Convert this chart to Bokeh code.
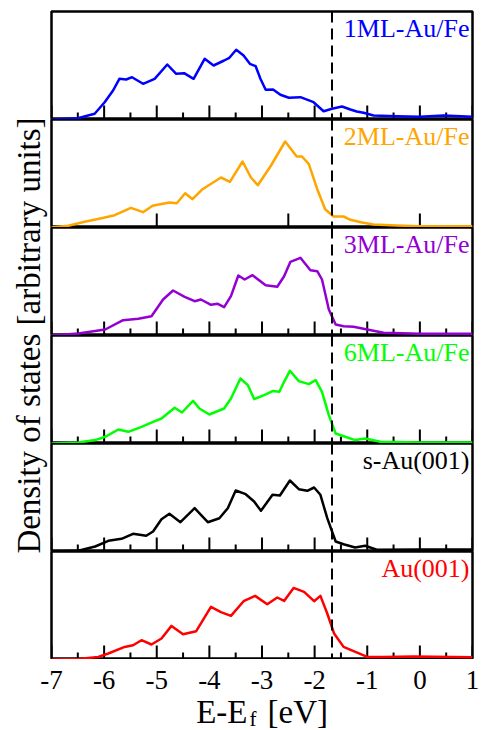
from bokeh.plotting import figure
from bokeh.models import Span, Label, Range1d
from bokeh.layouts import row, column
from bokeh.core.properties import value
from bokeh.embed import file_html
from bokeh.resources import INLINE

# ---- data (energy in eV relative to E_f, DOS in arbitrary units) ----
energy_1ml = [-7.00, -6.50, -6.18, -5.99, -5.83, -5.71, -5.58, -5.47, -5.26, -5.04, -4.80, -4.63, -4.48,
              -4.30, -4.09, -3.92, -3.72, -3.62, -3.49, -3.35, -3.23, -3.12, -3.03, -2.93, -2.79, -2.65,
              -2.49, -2.27, -2.02, -1.83, -1.67, -1.48, -1.32, -1.20, -1.07, -0.88, -0.44, 0.00, 0.45, 1.00]
dos_1ml = [0, 1.3, 5.7, 17.3, 29, 40.7, 40, 42.3, 35.7, 40.7, 55, 45.7, 46.3, 40.7, 60.7, 54, 59, 61.7,
           69.7, 64, 55.7, 53.3, 40.7, 29.7, 30, 24.7, 21.7, 22.3, 17.3, 8.3, 10.7, 13, 10, 8, 6.7, 4,
           3.3, 2.7, 4, 2.7]

energy_2ml = [-7.00, -6.68, -6.37, -6.05, -5.80, -5.49, -5.26, -5.08, -4.76, -4.62, -4.46, -4.32, -4.13,
              -3.78, -3.61, -3.37, -3.21, -3.08, -2.84, -2.56, -2.34, -2.24, -2.11, -1.95, -1.80, -1.64,
              -1.45, -1.32, -1.10, -0.88, -0.44, 0.00, 1.00]
dos_2ml = [0, 1.7, 5.7, 9.3, 12.3, 19.7, 15.3, 21.7, 25, 24.3, 34.3, 28.3, 38.3, 50, 45.7, 66, 50, 42.3,
           61, 86, 71, 71, 63.3, 38.3, 18.3, 11, 11, 7.7, 5, 3, 2, 1.3, 1.3]

energy_3ml = [-7.00, -6.49, -5.98, -5.64, -5.35, -5.10, -4.88, -4.69, -4.47, -4.28, -4.16, -3.97, -3.84,
              -3.72, -3.59, -3.45, -3.33, -3.18, -2.93, -2.71, -2.58, -2.46, -2.27, -2.08, -1.95, -1.86,
              -1.73, -1.60, -1.45, -1.26, -1.00, -0.69, 0.00, 1.00]
dos_3ml = [0, 2, 6, 15.3, 16.7, 19.3, 36, 45, 38.7, 34.3, 36, 30.7, 31.7, 28.3, 39.3, 60, 56, 60.3, 50.3,
           48.7, 59.3, 73.7, 77.7, 65.3, 64.3, 56, 26, 11, 9.3, 8.7, 6, 2.7, 1.7, 1.7]

energy_6ml = [-7.00, -6.49, -6.17, -5.98, -5.73, -5.54, -5.29, -5.07, -4.91, -4.66, -4.52, -4.31, -4.19,
              -4.00, -3.72, -3.59, -3.41, -3.27, -3.15, -2.96, -2.80, -2.67, -2.58, -2.47, -2.30, -2.11,
              -1.98, -1.86, -1.73, -1.60, -1.42, -1.23, -1.04, -0.75, 0.00, 1.00]
dos_6ml = [0, 1, 3.4, 6.7, 14, 11.7, 16.7, 21.7, 25, 35.7, 31, 42.7, 35, 29, 35, 45, 65, 58.4, 44.4, 48.4,
           52.4, 51.7, 61.7, 72.7, 62.4, 59.4, 63.4, 51.7, 28.4, 10, 6.7, 3.4, 5, 1.7, 1, 1]

energy_sau = [-7.00, -6.49, -6.17, -5.92, -5.67, -5.45, -5.20, -5.07, -4.91, -4.76, -4.55, -4.28, -4.03,
              -3.81, -3.65, -3.50, -3.31, -3.15, -3.02, -2.80, -2.66, -2.47, -2.30, -2.14, -2.01, -1.89,
              -1.76, -1.60, -1.45, -1.23, -1.04, -0.82, 0.00, 1.00]
dos_sau = [0, 0.7, 5, 10.7, 12.7, 17.7, 15.7, 20, 32.3, 37.7, 29.3, 43.3, 29.3, 33.3, 43.3, 61, 57.3, 50,
           40.7, 56.7, 56, 71, 62.3, 60.7, 64, 56.7, 33.3, 10, 7.3, 4, 5.7, 1.7, 2, 2]

energy_au = [-7.00, -6.49, -6.11, -5.92, -5.61, -5.45, -5.29, -5.10, -4.91, -4.72, -4.50, -4.25, -3.97,
             -3.78, -3.59, -3.35, -3.13, -2.90, -2.71, -2.58, -2.40, -2.20, -2.01, -1.89, -1.76, -1.63,
             -1.45, -1.26, -1.00, -0.69, -0.12, 1.00]
dos_au = [0, 0.6, 2.6, 6, 12.6, 14.3, 19.3, 15, 21, 33.6, 25.3, 28.3, 52.6, 47.3, 43.6, 58.3, 63.6, 55.3,
          62, 58.6, 71.6, 67.6, 58.3, 63.6, 46, 26, 12.6, 8.3, 2.6, 2.6, 3, 2.3]

series_names = ["1ML-Au/Fe", "2ML-Au/Fe", "3ML-Au/Fe", "6ML-Au/Fe", "s-Au(001)", "Au(001)"]
series_colors = ["#0000ff", "#ffa500", "#9400d3", "#00ff00", "#000000", "#ff0000"]
series_energy = [energy_1ml, energy_2ml, energy_3ml, energy_6ml, energy_sau, energy_au]
series_dos = [dos_1ml, dos_2ml, dos_3ml, dos_6ml, dos_sau, dos_au]

major_ticks = [-7, -6, -5, -4, -3, -2, -1, 0, 1]
minor_ticks = [-6.5, -5.5, -4.5, -3.5, -2.5, -1.5, -0.5, 0.5]
panel2_ticks = [-5, -2.5, 0]
tick_texts = [str(t) for t in major_ticks]
fermi_line = -1.67
x_start, x_end = -7, 1

# ---- layout constants (pixels) ----
FONT = "Liberation Serif"
PAGE_W = 481
LAB_W = 49          # strip holding the vertical axis title
FRAME_L = 2         # gap between title strip and panel frame
FRAME_W = 421
FRAME_R = PAGE_W - LAB_W - FRAME_L - FRAME_W
FRAME_H = 108
TOP = 11
XSTRIP_H = 70

panels = []
n = len(series_names)
for i in range(n):
    p = figure(frame_width=FRAME_W, frame_height=FRAME_H,
               x_range=Range1d(x_start, x_end), y_range=Range1d(0, 108),
               output_backend="svg", toolbar_location=None,
               min_border_left=FRAME_L, min_border_right=FRAME_R,
               min_border_top=TOP if i == 0 else 0, min_border_bottom=0,
               x_axis_location=None, y_axis_location=None)
    p.grid.visible = False
    p.outline_line_color = "black"
    p.outline_line_width = 2.5

    # inward ticks on the bottom edge of every panel
    if i == 1:
        majors, minors = panel2_ticks, []
    else:
        majors, minors = major_ticks, minor_ticks
    p.ray(x=majors, y=[0] * len(majors), length=14, length_units="screen",
          angle=90, angle_units="deg", line_color="black", line_width=2)
    if minors:
        p.ray(x=minors, y=[0] * len(minors), length=7, length_units="screen",
              angle=90, angle_units="deg", line_color="black", line_width=2)

    p.add_layout(Span(location=fermi_line, dimension="height", line_color="black",
                      line_width=2, line_dash="11 6"))
    p.line(series_energy[i], series_dos[i], line_color=series_colors[i], line_width=2.5,
           line_join="round")
    p.add_layout(Label(x=FRAME_W - 3, y=FRAME_H - 17, x_units="screen", y_units="screen",
                       text=series_names[i], text_align="right", text_baseline="alphabetic",
                       text_font=FONT, text_font_size="26px", text_color=series_colors[i]))
    panels.append(p)

# ---- bottom strip: tick labels and x-axis title (full page width) ----
px_per_unit = FRAME_W / (x_end - x_start)
sx0 = x_start - (LAB_W + FRAME_L) / px_per_unit
sx1 = x_end + FRAME_R / px_per_unit
xs = figure(frame_width=PAGE_W, frame_height=XSTRIP_H, output_backend="svg", toolbar_location=None,
            min_border_left=0, min_border_right=0, min_border_top=0, min_border_bottom=0,
            x_range=Range1d(sx0, sx1), y_range=Range1d(0, XSTRIP_H),
            x_axis_location=None, y_axis_location=None)
xs.grid.visible = False
xs.outline_line_color = None
xs.text(x=major_ticks, y=[50] * len(major_ticks), text=tick_texts,
        text_font=value(FONT), text_font_size="27px", text_align="center",
        text_baseline="alphabetic", text_color="black")
xs.add_layout(Label(x=247, y=18, x_units="screen", y_units="screen",
                    text="E-E", text_align="right", text_baseline="alphabetic",
                    text_font=FONT, text_font_size="33px", text_color="black"))
xs.add_layout(Label(x=249, y=11, x_units="screen", y_units="screen",
                    text="f", text_align="left", text_baseline="alphabetic",
                    text_font=FONT, text_font_size="21px", text_color="black"))
xs.add_layout(Label(x=267, y=18, x_units="screen", y_units="screen",
                    text="[eV]", text_align="left", text_baseline="alphabetic",
                    text_font=FONT, text_font_size="33px", text_color="black"))

# ---- vertical axis title ----
lab = figure(width=LAB_W, height=TOP + n * FRAME_H, x_range=Range1d(0, 1), y_range=Range1d(0, 1),
             output_backend="svg", toolbar_location=None,
             min_border_left=46, min_border_right=0, min_border_top=TOP, min_border_bottom=0,
             title="Density of states [arbitrary units]", title_location="left",
             x_axis_location=None, y_axis_location=None)
lab.grid.visible = False
lab.outline_line_color = None
lab.title.align = "center"
lab.title.text_font = FONT
lab.title.text_font_size = "33px"
lab.title.text_font_style = "normal"
lab.title.text_color = "black"
lab.title.standoff = 0

layout = column(row(lab, column(*panels)), xs)
open("out.html", "w").write(file_html(layout, INLINE))
